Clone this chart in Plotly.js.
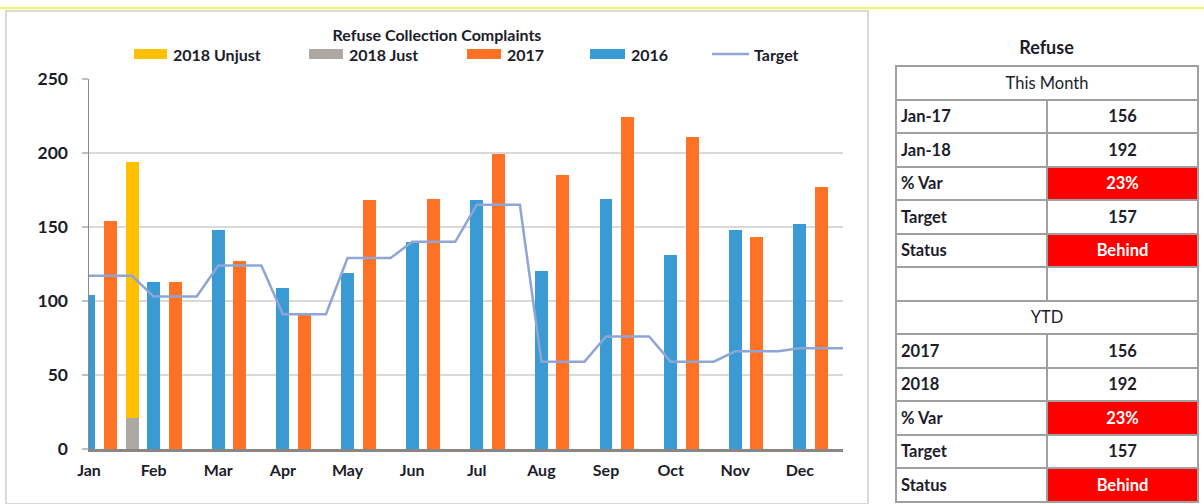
<!DOCTYPE html>
<html>
<head>
<meta charset="utf-8">
<script src="https://cdn.plot.ly/plotly-3.0.1.min.js"></script>
<style>
  html, body { margin:0; padding:0; background:#fff; width:1204px; height:504px; overflow:hidden; }
  #yellow { position:absolute; left:0; top:7px; width:1204px; height:2px; background:#f4f46a; }
  #box { position:absolute; left:5px; top:10px; width:860px; height:491px; border:2px solid #d9d9d9; }
  #chart { position:absolute; left:0; top:0; width:1204px; height:504px; }
  #tblTitle { position:absolute; left:895px; top:36px; width:303px; text-align:center; font:bold 18px Lato, sans-serif; color:#1c1c2a; }
  #tbl { position:absolute; left:895px; top:65px; width:304px; height:436px; border-collapse:collapse; font:bold 16.5px Lato, sans-serif; color:#1c1c2a; table-layout:fixed; }
  #tbl tr { height:33.5px; }
  #tbl td { border:2px solid #a0a0a0; padding:0 4px; }
  #tbl td.v { text-align:center; }
  #tbl td.h { text-align:center; font-weight:normal; }
  #tbl td.red { background:#ff0000; color:#fff; }
</style>
</head>
<body>
<div id="yellow"></div>
<div id="box"></div>
<div id="chart"></div>
<div id="tblTitle"></div>
<table id="tbl"></table>
<script>
// ---- chart data ----
const months = ['Jan','Feb','Mar','Apr','May','Jun','Jul','Aug','Sep','Oct','Nov','Dec'];
const seriesNames = ['2018 Unjust','2018 Just','2017','2016','Target'];
const v2016 = [104,113,148,109,119,140,168,120,169,131,148,152];
const v2017 = [154,113,127,92,168,169,199,185,224,211,143,177];
const just2018Months = ['Jan'];
const just2018 = [21];
const unjust2018 = [173];
const target = [117,103,124,91,129,140,165,59,76,59,66,68];

// ---- table data ----
const tableTitle = 'Refuse';
const section1 = 'This Month';
const rows1Labels = ['Jan-17','Jan-18','% Var','Target','Status'];
const rows1Values = ['156','192','23%','157','Behind'];
const section2 = 'YTD';
const rows2Labels = ['2017','2018','% Var','Target','Status'];
const rows2Values = ['156','192','23%','157','Behind'];
const redRows = ['% Var','Status'];

const colors = {u18:'#ffc000', j18:'#aea8a4', y17:'#ff7124', y16:'#3a9ad3', tgt:'#8ea5d6'};
const txt = '#1c1c2a';
const fam = 'Lato, sans-serif';

const cats = [];
months.forEach(m => { cats.push(m+' 2016', m+' 2017', m+' 2018'); });
const targetY = [];
target.forEach(t => { targetY.push(t, t, t); });

const traces = [
  {type:'bar', name:seriesNames[3], x:months.map(m=>m+' 2016'), y:v2016, width:0.6, marker:{color:colors.y16}, showlegend:false, hoverinfo:'skip'},
  {type:'bar', name:seriesNames[2], x:months.map(m=>m+' 2017'), y:v2017, width:0.6, marker:{color:colors.y17}, showlegend:false, hoverinfo:'skip'},
  {type:'bar', name:seriesNames[1], x:just2018Months.map(m=>m+' 2018'), y:just2018, width:0.6, marker:{color:colors.j18}, showlegend:false, hoverinfo:'skip'},
  {type:'bar', name:seriesNames[0], x:just2018Months.map(m=>m+' 2018'), y:unjust2018, width:0.6, marker:{color:colors.u18}, showlegend:false, hoverinfo:'skip'},
  {type:'scatter', mode:'lines', name:seriesNames[4], x:cats, y:targetY, line:{color:colors.tgt, width:2.5}, showlegend:false, hoverinfo:'skip'}
];

// custom legend (wide swatches like the original)
const PX0 = 89, PW = 754, PY0 = 449, PH = 370;
const px = p => (p-PX0)/PW;
const py = p => (PY0-p)/PH;
const legendItems = [
  {name:seriesNames[0], color:colors.u18, x0:134, x1:167, tx:171, kind:'rect'},
  {name:seriesNames[1], color:colors.j18, x0:309, x1:343, tx:347, kind:'rect'},
  {name:seriesNames[2], color:colors.y17, x0:467, x1:501, tx:505, kind:'rect'},
  {name:seriesNames[3], color:colors.y16, x0:590, x1:625, tx:629, kind:'rect'},
  {name:seriesNames[4], color:colors.tgt, x0:712, x1:749, tx:752, kind:'line'}
];
const LY = 54;
const shapes = [], annotations = [];
legendItems.forEach(it => {
  if (it.kind === 'rect') {
    shapes.push({type:'rect', xref:'paper', yref:'paper', x0:px(it.x0), x1:px(it.x1), y0:py(LY+5), y1:py(LY-5), fillcolor:it.color, line:{width:0}});
  } else {
    shapes.push({type:'line', xref:'paper', yref:'paper', x0:px(it.x0), x1:px(it.x1), y0:py(LY), y1:py(LY), line:{color:it.color, width:2.5}});
  }
  annotations.push({xref:'paper', yref:'paper', x:px(it.tx), y:py(LY), xanchor:'left', yanchor:'middle', showarrow:false, text:it.name, font:{family:fam, size:16, color:txt, weight:'bold'}});
});

const layout = {
  width:1204, height:504,
  margin:{l:89, r:361, t:79, b:55},
  paper_bgcolor:'rgba(0,0,0,0)', plot_bgcolor:'rgba(0,0,0,0)',
  barmode:'stack',
  showlegend:false,
  title:{text:'Refuse Collection Complaints', xref:'container', x:437/1204, xanchor:'center', yref:'container', y:1-35/504, yanchor:'middle', font:{family:fam, size:16, color:txt, weight:'bold'}},
  xaxis:{type:'category', categoryorder:'array', categoryarray:cats, range:[0,35], tickvals:months.map(m=>m+' 2016'), ticktext:months,
    showgrid:false, zeroline:false, showline:true, linecolor:'#8a8683', linewidth:3, ticks:'', tickfont:{family:fam, size:16, color:txt, weight:'bold'}, ticklabelstandoff:5},
  yaxis:{range:[0,250], dtick:50, tick0:0, showgrid:true, gridcolor:'#d9d9d9', gridwidth:2, zeroline:false, showline:true, linecolor:'#8a8a8a', linewidth:1.5,
    ticks:'outside', ticklen:6, tickcolor:'#bfbfbf', tickwidth:2, tickfont:{family:fam, size:17.5, color:txt, weight:'bold'}, ticklabelstandoff:10},
  shapes:shapes, annotations:annotations
};
Plotly.newPlot('chart', traces, layout, {staticPlot:true, displayModeBar:false});

// ---- table ----
document.getElementById('tblTitle').textContent = tableTitle;
const tbl = document.getElementById('tbl');
function addHeader(t){ const tr=document.createElement('tr'); const td=document.createElement('td'); td.colSpan=2; td.className='h'; td.textContent=t; tr.appendChild(td); tbl.appendChild(tr); }
function addRow(l,v){ const tr=document.createElement('tr'); const a=document.createElement('td'); a.textContent=l; a.style.width='152px'; const b=document.createElement('td'); b.textContent=v; b.className='v'+(redRows.includes(l)?' red':''); tr.appendChild(a); tr.appendChild(b); tbl.appendChild(tr); }
addHeader(section1);
rows1Labels.forEach((l,i)=>addRow(l, rows1Values[i]));
addRow('', '');
addHeader(section2);
rows2Labels.forEach((l,i)=>addRow(l, rows2Values[i]));
</script>
</body>
</html>
